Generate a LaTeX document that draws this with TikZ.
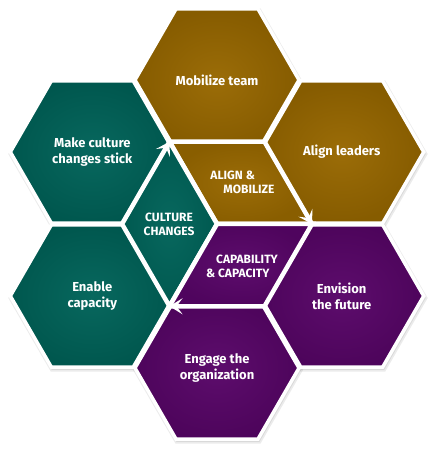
\documentclass[tikz,border=0pt]{standalone}
\usepackage{fontspec}
\setmainfont{Fira Sans}
\usetikzlibrary{positioning,shapes.geometric,arrows.meta}
\definecolor{goldcolor}{RGB}{152,104,0}
\definecolor{tealcolor}{RGB}{0,99,89}
\definecolor{plumcolor}{RGB}{88,5,104}

\begin{document}
\begin{tikzpicture}[x=1pt,y=1pt,>=Stealth]
  % Styles for the hexagon cells
  \tikzset{
    cell/.style={regular polygon, regular polygon sides=6, minimum size=164pt, inner sep=0pt, draw=white, line width=3.5pt, text=white, font=\bfseries\fontsize{13}{16}\selectfont, align=center},
    goldcell/.style={cell, inner color=goldcolor!97!white, outer color=goldcolor!88!black},
    tealcell/.style={cell, inner color=tealcolor!97!white, outer color=tealcolor!88!black},
    plumcell/.style={cell, inner color=plumcolor!97!white, outer color=plumcolor!88!black},
    lozenge/.style={draw=white, line width=4.5pt, line join=miter},
    caption/.style={text=white, font=\bfseries\fontsize{12}{14}\selectfont, inner sep=0pt},
    flow/.style={draw=white, line width=3.5pt, -{Stealth[length=13pt,width=16pt,inset=6pt]}, shorten >=0pt},
    cellshadow/.style={fill=black, opacity=0.08}
  }
  \useasboundingbox (0,0) rectangle (436,450);

  % Centres of the flower
  \coordinate (hub) at (217,226);
  \coordinate (ptop) at ([yshift=144]hub);
  \coordinate (pbot) at ([yshift=-144]hub);
  \coordinate (pur) at ([shift={(124.7,72)}]hub);
  \coordinate (plr) at ([shift={(124.7,-72)}]hub);
  \coordinate (pul) at ([shift={(-124.7,72)}]hub);
  \coordinate (pll) at ([shift={(-124.7,-72)}]hub);
  \foreach \a in {0,60,...,300}
    \coordinate (hv\a) at ([shift={(\a:95)}]hub);

  % Soft shadows under the outer cells
  \foreach \p in {ptop,pur,plr,pbot,pll,pul} {
    \fill[cellshadow] ([shift={(1,-2)}]\p) +(0:85) -- +(60:85) -- +(120:85) -- +(180:85) -- +(240:85) -- +(300:85) -- cycle;
    \fill[cellshadow] ([shift={(1,-2)}]\p) +(0:83) -- +(60:83) -- +(120:83) -- +(180:83) -- +(240:83) -- +(300:83) -- cycle;
  }

  % Outer cells
  \node[goldcell] (mobilize) at (ptop) {Mobilize team};
  \node[goldcell] (leaders) at (pur) {Align leaders};
  \node[plumcell] (envision) at (plr) {Envision\\the future};
  \node[plumcell] (engage) at (pbot) {Engage the\\organization};
  \node[tealcell] (enable) at (pll) {Enable\\capacity};
  \node[tealcell] (stick) at (pul) {Make culture\\changes stick};

  % Centre cell, split in three
  \path[lozenge, inner color=goldcolor!97!white, outer color=goldcolor!90!black] (hub) -- (hv0) -- (hv60) -- (hv120) -- cycle;
  \path[lozenge, inner color=tealcolor!97!white, outer color=tealcolor!90!black] (hub) -- (hv120) -- (hv180) -- (hv240) -- cycle;
  \path[lozenge, inner color=plumcolor!97!white, outer color=plumcolor!90!black] (hub) -- (hv240) -- (hv300) -- (hv0) -- cycle;

  \node[caption, align=left] (alignmob) at (242.5,268) {ALIGN \&\\\hspace*{13pt}MOBILIZE};
  \node[caption, align=center] (culture) at (169,226) {CULTURE\\CHANGES};
  \node[caption, align=left] (capability) at (242,184) {\hspace*{10pt}CAPABILITY\\\& CAPACITY};

  % Arrows round the centre
  \draw[flow] (hv180) -- (hv120);
  \draw[flow] (hv60) -- (hv0);
  \draw[flow] (hv300) -- (hv240);
\end{tikzpicture}
\end{document}
